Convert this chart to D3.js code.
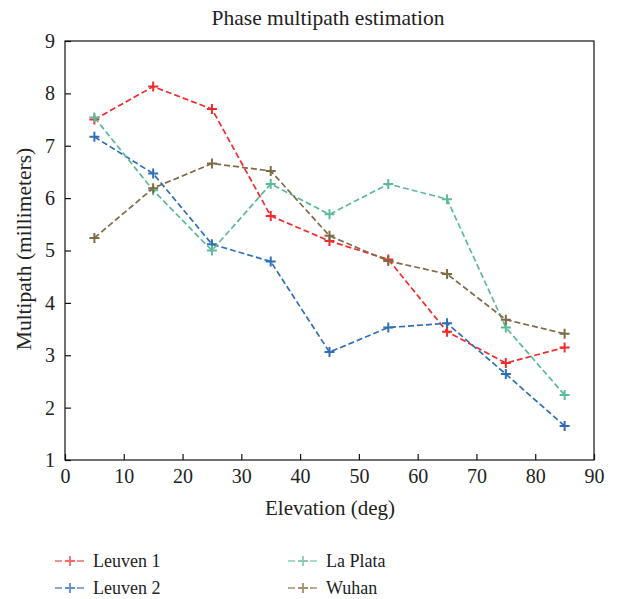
<!DOCTYPE html>
<html><head><meta charset="utf-8">
<script src="https://cdn.jsdelivr.net/npm/d3@7"></script>
<style>body{margin:0;background:#fff}text{font-family:"Liberation Serif","DejaVu Serif",serif;fill:#222}</style>
</head><body><svg id="c" width="618" height="599"></svg>
<script>
const elevation = [5,15,25,35,45,55,65,75,85];
const leuven1 = [7.50,8.13,7.70,5.66,5.18,4.83,3.45,2.85,3.15];
const leuven2 = [7.17,6.47,5.12,4.79,3.06,3.53,3.61,2.64,1.65];
const laPlata = [7.54,6.15,5.00,6.27,5.69,6.27,5.98,3.53,2.24];
const wuhan   = [5.24,6.19,6.66,6.52,5.28,4.80,4.55,3.68,3.41];
const seriesNames = ["Leuven 1","Leuven 2","La Plata","Wuhan"];
const xTicks = [0,10,20,30,40,50,60,70,80,90];
const yTicks = [1,2,3,4,5,6,7,8,9];
const colors = ["#f42a2a","#2f6fb5","#5db99b","#806b47"];
const legendColors = ["#f26a6a","#5f8fc8","#8ccbb4","#a3916f"];

const svg = d3.select("#c");
const L=65,R=594,T=41,B=460;
const x = d3.scaleLinear().domain([0,90]).range([L,R]);
const y = d3.scaleLinear().domain([1,9]).range([B,T]);

svg.append("rect").attr("x",L).attr("y",T).attr("width",R-L).attr("height",B-T)
  .attr("fill","none").attr("stroke","#111").attr("stroke-width",1.2);

const xa = svg.append("g").attr("transform",`translate(0,${B})`)
  .call(d3.axisBottom(x).tickValues(xTicks).tickSizeInner(-6).tickSizeOuter(0).tickPadding(9));
const ya = svg.append("g").attr("transform",`translate(${L},0)`)
  .call(d3.axisLeft(y).tickValues(yTicks).tickSizeInner(-6).tickSizeOuter(0).tickPadding(10));
[xa,ya].forEach(a=>{a.select(".domain").remove();
  a.selectAll("line").attr("stroke","#111").attr("stroke-width",1.2);
  a.selectAll("text").style("font-family","'Liberation Serif',serif").style("font-size","20px").attr("fill","#222");});

svg.append("text").attr("x",328).attr("y",25).attr("text-anchor","middle").style("font-size","21.5px").text("Phase multipath estimation");
svg.append("text").attr("x",330).attr("y",515).attr("text-anchor","middle").style("font-size","21px").text("Elevation (deg)");
svg.append("text").attr("transform","translate(31,249) rotate(-90)").attr("text-anchor","middle").style("font-size","21.5px").text("Multipath (millimeters)");

const all=[leuven1,leuven2,laPlata,wuhan];
const line=d3.line().x((d,i)=>x(elevation[i])).y(d=>y(d));
all.forEach((s,k)=>{
  const g=svg.append("g");
  g.append("path").attr("d",line(s)).attr("fill","none").attr("stroke",colors[k]).attr("stroke-width",1.7).attr("stroke-dasharray","6,3");
  s.forEach((v,i)=>{
    const cx=x(elevation[i]),cy=y(v);
    g.append("path").attr("d",`M${cx-5},${cy}H${cx+5}M${cx},${cy-5}V${cy+5}`).attr("stroke",colors[k]).attr("stroke-width",2);
  });
});

const leg=[[55,561],[55,588],[288,561],[288,588]];
[0,1,2,3].forEach((k)=>{
  const [lx,ly]=leg[k];
  const g=svg.append("g");
  g.append("path").attr("d",`M${lx},${ly}H${lx+30}`).attr("stroke",legendColors[k]).attr("stroke-width",1.6).attr("stroke-dasharray","7,4");
  g.append("path").attr("d",`M${lx+10},${ly}H${lx+20}M${lx+15},${ly-5}V${ly+5}`).attr("stroke",legendColors[k]).attr("stroke-width",1.8);
  g.append("text").attr("x",lx+38).attr("y",ly+6).style("font-size","18px").text(seriesNames[k]);
});
</script></body></html>
